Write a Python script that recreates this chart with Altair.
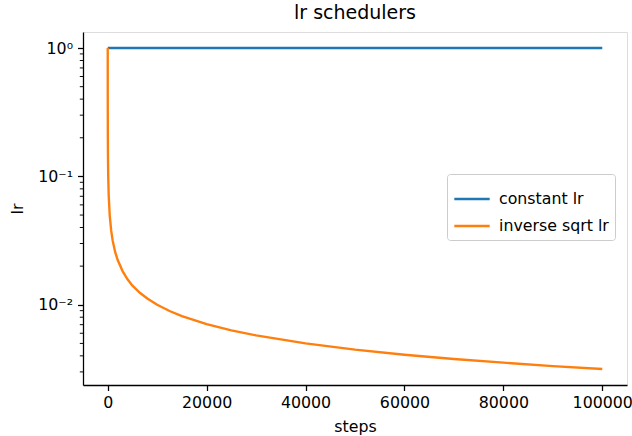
import altair as alt
import pandas as pd

# constant lr series
const_steps = [0, 100000]
const_lr = [1.0, 1.0]

# inverse sqrt lr series
inv_steps = [1, 2, 5, 10, 25, 50, 100, 200, 400, 700, 1000, 1500, 2000, 3000, 4000,
             5000, 6500, 8000, 10000, 12500, 15000, 20000, 25000, 30000, 40000,
             50000, 60000, 70000, 80000, 90000, 100000]
inv_lr = [1.0, 0.707, 0.447, 0.316, 0.2, 0.141, 0.1, 0.0707, 0.05, 0.0378, 0.0316,
          0.0258, 0.0224, 0.0183, 0.0158, 0.0141, 0.0124, 0.0112, 0.01, 0.00894,
          0.00816, 0.00707, 0.00632, 0.00577, 0.005, 0.00447, 0.00408, 0.00378,
          0.00354, 0.00333, 0.00316]

series_names = ["constant lr", "inverse sqrt lr"]
series_colors = ["#1f77b4", "#ff7f0e"]

x_ticks = [0, 20000, 40000, 60000, 80000, 100000]
y_major = [1.0, 0.1, 0.01]
y_minor = [m * 10.0 ** e for e in (-3, -2, -1) for m in range(2, 10)]

x_domain = [-5000, 105000]
y_domain = [10 ** -2.625, 10 ** 0.125]
y_minor = [v for v in y_minor if y_domain[0] <= v <= y_domain[1]]

df = pd.concat([
    pd.DataFrame({"steps": const_steps, "lr": const_lr, "series": series_names[0]}),
    pd.DataFrame({"steps": inv_steps, "lr": inv_lr, "series": series_names[1]}),
])
minor_df = pd.DataFrame({"v": y_minor})

FONT = "DejaVu Sans"
FS = 15.8
TICK = 5.5
TW = 1.27

xscale = alt.Scale(domain=x_domain, nice=False, zero=False)
yscale = alt.Scale(type="log", domain=y_domain, nice=False)

lines = alt.Chart(df).mark_line(strokeWidth=2.37, clip=True).encode(
    x=alt.X("steps:Q", scale=xscale,
            axis=alt.Axis(title="steps", values=x_ticks, format="d", grid=False,
                          tickSize=TICK, tickWidth=TW, tickColor="black",
                          domainColor="black", domainWidth=TW,
                          labelFontSize=FS, labelFont=FONT, labelColor="black",
                          labelPadding=5, titleFontSize=FS, titleFont=FONT,
                          titleFontWeight="normal", titleColor="black",
                          titlePadding=9, labelFlush=False)),
    y=alt.Y("lr:Q", scale=yscale,
            axis=alt.Axis(title="lr", values=y_major, grid=False,
                          labelExpr="round(log(datum.value)/LN10) == 0 ? '10⁰' : round(log(datum.value)/LN10) == -1 ? '10⁻¹' : '10⁻²'",
                          tickSize=TICK, tickWidth=TW, tickColor="black",
                          domainColor="black", domainWidth=TW,
                          labelFontSize=FS, labelFont=FONT, labelColor="black",
                          labelPadding=5, titleFontSize=FS, titleFont=FONT,
                          titleFontWeight="normal", titleColor="black",
                          titlePadding=12, labelFlush=False)),
    color=alt.Color("series:N",
                    scale=alt.Scale(domain=series_names, range=series_colors),
                    legend=alt.Legend(title=None, orient="none", legendX=364, legendY=142,
                                      symbolType="stroke", symbolSize=1250,
                                      symbolStrokeWidth=2.37, labelFontSize=FS,
                                      labelFont=FONT, labelColor="black",
                                      labelOffset=8, rowPadding=-2,
                                      padding=6, strokeColor="#cccccc",
                                      fillColor="white", cornerRadius=3)),
    order=alt.Order("series:N"),
)

minor = alt.Chart(minor_df).mark_rule(color="black", strokeWidth=0.95).encode(
    y=alt.Y("v:Q", scale=yscale),
    x=alt.value(-3.2),
    x2=alt.value(0),
)

chart = alt.layer(lines, minor).properties(
    width=544, height=353,
    title=alt.TitleParams("lr schedulers", fontSize=19, font=FONT,
                          fontWeight="normal", color="black", offset=9),
    autosize=alt.AutoSizeParams(type="none"),
    padding={"left": 83, "top": 32, "right": 5, "bottom": 51},
).configure_view(stroke="black", strokeWidth=TW).configure(background="white")

chart.save("out.html", embed_options={"renderer": "svg", "actions": False})
